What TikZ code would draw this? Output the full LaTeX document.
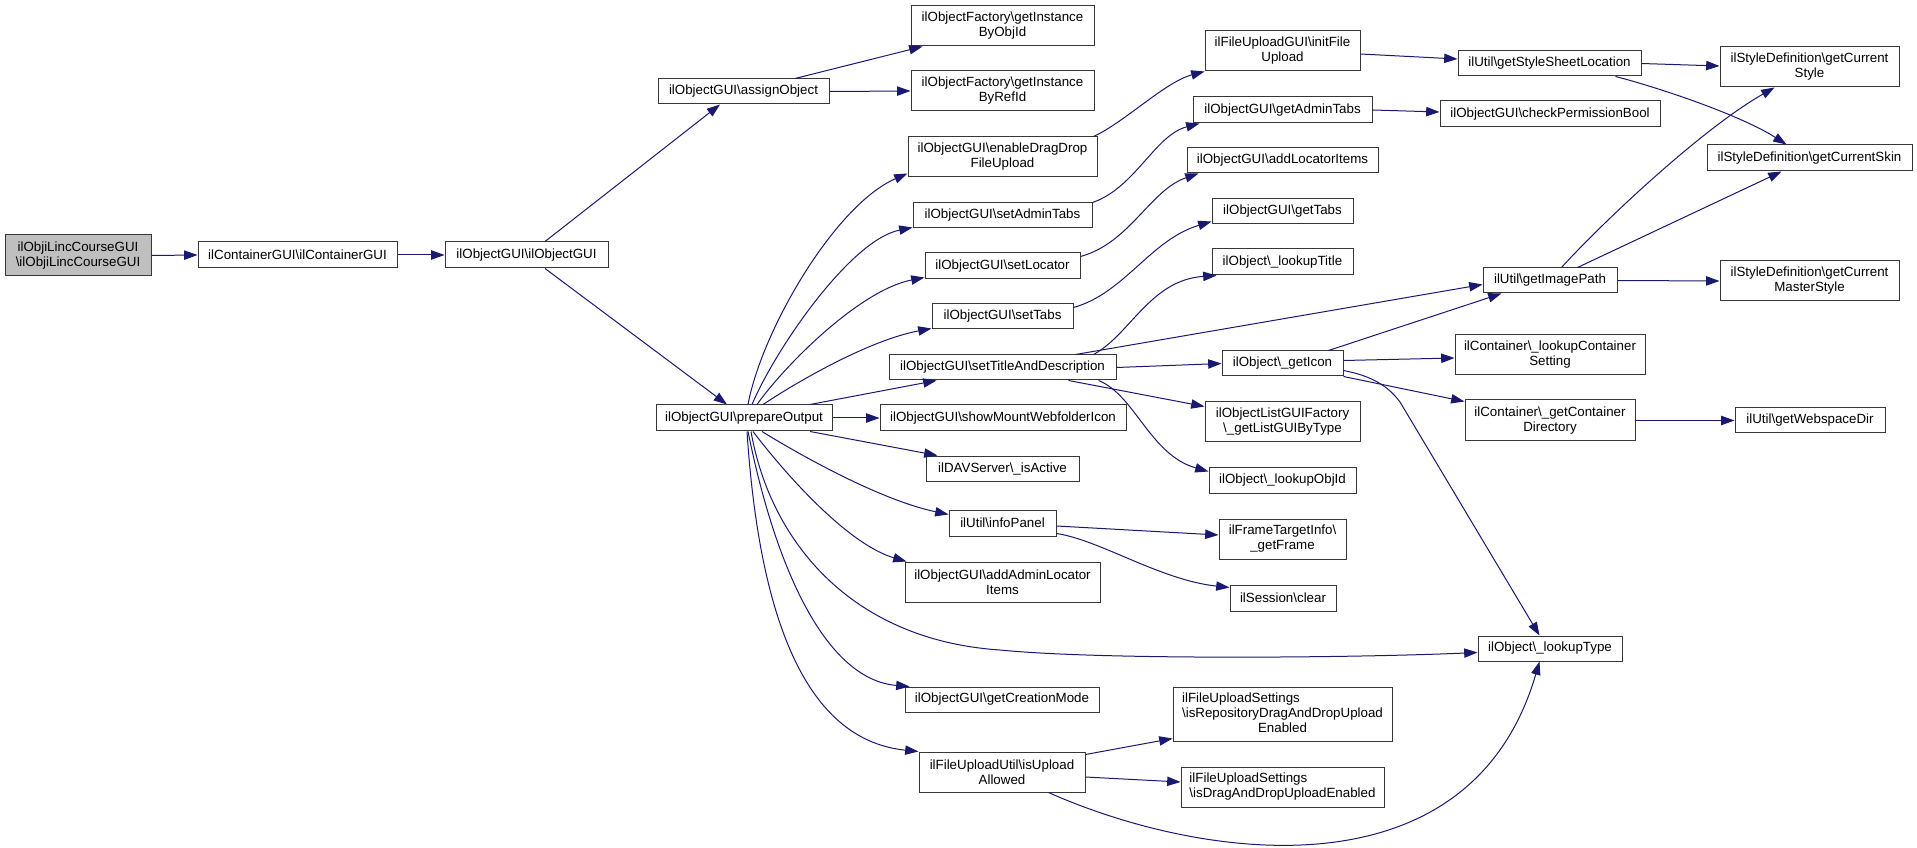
\documentclass[tikz,border=0pt]{standalone}
\usepackage{fontspec}
\setmainfont{Liberation Sans}
\usetikzlibrary{arrows.meta,calc}
\definecolor{edgec}{RGB}{25,25,112}
\definecolor{boxc}{RGB}{55,55,55}
\definecolor{rootfill}{RGB}{191,191,191}
\newcommand{\bksl}{\textbackslash}
\tikzset{
  box/.style={draw=boxc, line width=0.75pt, fill=white, inner sep=0pt, align=center,
    font=\fontsize{10}{11.25}\selectfont},
  edge/.style={draw=edgec, line width=0.75pt, -{Triangle[length=10pt,width=7pt]}}
}
\newcommand{\mkbox}[7][]{%
  \node[box,#1,minimum width={(#5-#3)*0.75pt},minimum height={(#6-#4)*0.75pt}]
    (#2) at ({(#3+#5)/2},{(#4+#6)/2}) {#7};}
\begin{document}
\begin{tikzpicture}[x=0.75pt,y=-0.75pt]
\fill[white] (0,0) rectangle (1917,848);
\useasboundingbox (0,0) rectangle (1917,848);
% nodes
\mkbox[fill=rootfill]{root}{5}{235}{151}{276}{ilObjiLincCourseGUI\\\bksl ilObjiLincCourseGUI}
\mkbox{cont}{198}{242}{397}{268}{ilContainerGUI\bksl ilContainerGUI}
\mkbox{objgui}{445}{242}{608}{268}{ilObjectGUI\bksl ilObjectGUI}
\mkbox{assign}{658}{79}{829}{104}{ilObjectGUI\bksl assignObject}
\mkbox{objid}{911}{6}{1094}{46}{ilObjectFactory\bksl getInstance\\ByObjId}
\mkbox{refid}{911}{71}{1094}{111}{ilObjectFactory\bksl getInstance\\ByRefId}
\mkbox{dnd}{908}{137}{1097}{177}{ilObjectGUI\bksl enableDragDrop\\FileUpload}
\mkbox{setadmin}{913}{203}{1092}{228}{ilObjectGUI\bksl setAdminTabs}
\mkbox{setloc}{925}{253}{1080}{279}{ilObjectGUI\bksl setLocator}
\mkbox{settabs}{932}{304}{1073}{329}{ilObjectGUI\bksl setTabs}
\mkbox{settitle}{889}{355}{1116}{380}{ilObjectGUI\bksl setTitleAndDescription}
\mkbox{prep}{656}{405}{832}{431}{ilObjectGUI\bksl prepareOutput}
\mkbox{mount}{880}{405}{1126}{431}{ilObjectGUI\bksl showMountWebfolderIcon}
\mkbox{dav}{926}{456}{1079}{481}{ilDAVServer\bksl\_isActive}
\mkbox{info}{949}{510}{1056}{536}{ilUtil\bksl infoPanel}
\mkbox{addadmin}{905}{562}{1100}{602}{ilObjectGUI\bksl addAdminLocator\\Items}
\mkbox{creation}{905}{687}{1099}{712}{ilObjectGUI\bksl getCreationMode}
\mkbox{isupload}{919}{752}{1085}{792}{ilFileUploadUtil\bksl isUpload\\Allowed}
\mkbox{initfile}{1205}{31}{1360}{71}{ilFileUploadGUI\bksl initFile\\Upload}
\mkbox{getadmin}{1193}{97}{1372}{123}{ilObjectGUI\bksl getAdminTabs}
\mkbox{addloc}{1187}{148}{1378}{173}{ilObjectGUI\bksl addLocatorItems}
\mkbox{gettabs}{1212}{199}{1353}{224}{ilObjectGUI\bksl getTabs}
\mkbox{ltitle}{1212}{249}{1353}{275}{ilObject\bksl\_lookupTitle}
\mkbox{geticon}{1222}{351}{1343}{376}{ilObject\bksl\_getIcon}
\mkbox{olgf}{1205}{402}{1360}{442}{ilObjectListGUIFactory\\\bksl\_getListGUIByType}
\mkbox{lobjid}{1209}{467}{1356}{493}{ilObject\bksl\_lookupObjId}
\mkbox{frame}{1219}{519}{1346}{559}{ilFrameTargetInfo\bksl\\\_getFrame}
\mkbox{sess}{1230}{585}{1336}{611}{ilSession\bksl clear}
\mkbox{ltype}{1478}{636}{1622}{661}{ilObject\bksl\_lookupType}
\mkbox{repodnd}{1173}{687}{1392}{741}{\begin{tabular}{@{}l@{}}ilFileUploadSettings\\\bksl isRepositoryDragAndDropUpload\\\multicolumn{1}{@{}c@{}}{Enabled}\end{tabular}}
\mkbox{dndenabled}{1181}{767}{1384}{807}{\begin{tabular}{@{}l@{}}ilFileUploadSettings\\\bksl isDragAndDropUploadEnabled\end{tabular}}
\mkbox{ssloc}{1458}{51}{1641}{76}{ilUtil\bksl getStyleSheetLocation}
\mkbox{checkperm}{1440}{101}{1660}{127}{ilObjectGUI\bksl checkPermissionBool}
\mkbox{imgpath}{1483}{268}{1617}{293}{ilUtil\bksl getImagePath}
\mkbox{lcs}{1455}{335}{1645}{375}{ilContainer\bksl\_lookupContainer\\Setting}
\mkbox{gcd}{1465}{400}{1635}{441}{ilContainer\bksl\_getContainer\\Directory}
\mkbox{curstyle}{1720}{47}{1899}{87}{ilStyleDefinition\bksl getCurrent\\Style}
\mkbox{curskin}{1707}{145}{1912}{171}{ilStyleDefinition\bksl getCurrentSkin}
\mkbox{master}{1720}{261}{1899}{301}{ilStyleDefinition\bksl getCurrent\\MasterStyle}
\mkbox{webspace}{1735}{408}{1885}{433}{ilUtil\bksl getWebspaceDir}
% edges
\draw[edge] (root.east) -- (cont.west);
\draw[edge] (cont.east) -- (objgui.west);
\draw[edge] ($(objgui.north)+(18.5,0)$) -- ($(assign.south)+(-23.5,0)$);
\draw[edge] ($(objgui.south)+(18.5,0)$) -- ($(prep.north)+(-17,0)$);
\draw[edge] ($(assign.north)+(51.5,0)$) -- ($(objid.south west)+(12,0)$);
\draw[edge] (assign.east) -- (refid.west);
% prepareOutput upward
\draw[edge] ($(prep.north)+(4,0)$) .. controls (762,330) and (835,205) .. ($(dnd.south west)+(0,-4)$);
\draw[edge] ($(prep.north)+(8,0)$) .. controls (775,350) and (850,240) .. ($(setadmin.south west)+(0,-1)$);
\draw[edge] ($(prep.north)+(13,0)$) .. controls (785,365) and (860,290) .. ($(setloc.south west)+(0,-2)$);
\draw[edge] ($(prep.north)+(19,0)$) .. controls (800,380) and (870,340) .. ($(settabs.south west)+(0,-1)$);
\draw[edge] ($(prep.north)+(66,0)$) -- ($(settitle.south west)+(48,0)$);
\draw[edge] (prep.east) -- (mount.west);
% prepareOutput downward
\draw[edge] ($(prep.south)+(66,0)$) -- ($(dav.north west)+(12,0)$);
\draw[edge] ($(prep.south)+(18,0)$) .. controls (800,455) and (880,500) .. ($(info.north west)+(0,5)$);
\draw[edge] ($(prep.south)+(9,0)$) .. controls (790,480) and (850,545) .. ($(addadmin.north west)+(2,0)$);
\draw[edge] ($(prep.south)+(7,0)$) .. controls (770,540) and (850,640) .. (1000,650) .. controls (1100,660) and (1350,658) .. ($(ltype.west)+(0,4)$);
\draw[edge] ($(prep.south)+(4,0)$) .. controls (778,580) and (830,680) .. ($(creation.north west)+(5,0)$);
\draw[edge] ($(prep.south)+(3,0)$) .. controls (762,660) and (825,742) .. (isupload.north west);
% second level
\draw[edge] ($(dnd.north east)+(-4,0)$) .. controls (1125,122) and (1165,82) .. (initfile.south west);
\draw[edge] (setadmin.north east) .. controls (1135,188) and (1155,135) .. ($(getadmin.south west)+(7,0)$);
\draw[edge] ($(setloc.north east)+(0,4)$) .. controls (1130,243) and (1150,190) .. ($(addloc.south west)+(12,0)$);
\draw[edge] ($(settabs.north east)+(0,4)$) .. controls (1125,293) and (1150,240) .. ($(gettabs.south west)+(0,-3)$);
\draw[edge] ($(settitle.north east)+(-23,0)$) .. controls (1130,335) and (1150,280) .. ($(ltitle.south west)+(5,0)$);
\draw[edge] ($(settitle.north east)+(-41,0)$) -- ($(imgpath.south west)+(0,-9)$);
\draw[edge] (settitle.east) -- (geticon.west);
\draw[edge] ($(settitle.south east)+(-48,0)$) -- ($(olgf.north west)+(0,5)$);
\draw[edge] ($(settitle.south east)+(-18,0)$) .. controls (1135,395) and (1150,455) .. ($(lobjid.north west)+(0,5)$);
\draw[edge] ($(info.east)+(0,3)$) -- ($(frame.west)+(0,-4)$);
\draw[edge] ($(info.south east)+(0,-3)$) .. controls (1100,540) and (1160,580) .. ($(sess.north west)+(0,3)$);
\draw[edge] ($(isupload.north east)+(0,3)$) -- ($(repodnd.south west)+(0,-3)$);
\draw[edge] ($(isupload.east)+(0,5)$) -- ($(dndenabled.west)+(0,-5)$);
\draw[edge] ($(isupload.south east)+(-37,0)$) .. controls (1200,860) and (1470,900) .. ($(ltype.south west)+(62,0)$);
% third level
\draw[edge] ($(initfile.east)+(0,3)$) -- ($(ssloc.west)+(0,-4.5)$);
\draw[edge] (getadmin.east) -- ($(checkperm.west)+(0,-2)$);
\draw[edge] ($(geticon.north east)+(-15,0)$) -- ($(imgpath.south west)+(19,0)$);
\draw[edge] ($(geticon.north east)+(0,10)$) -- ($(lcs.west)+(0,3)$);
\draw[edge] (geticon.south east) -- ($(gcd.north west)+(0,2)$);
\draw[edge] ($(geticon.south east)+(0,-6)$) .. controls (1372,376) and (1388,386) .. (1400,402) -- ($(ltype.north west)+(62,0)$);
\draw[edge] (gcd.east) -- (webspace.west);
% fourth level
\draw[edge] (ssloc.east) -- ($(curstyle.west)+(0,-1)$);
\draw[edge] ($(ssloc.south east)+(-26,0)$) .. controls (1660,88) and (1740,115) .. ($(curskin.north west)+(80,0)$);
\draw[edge] ($(imgpath.north west)+(79,0)$) .. controls (1600,225) and (1700,130) .. ($(curstyle.south west)+(55,0)$);
\draw[edge] ($(imgpath.north west)+(95,0)$) -- ($(curskin.south west)+(75,0)$);
\draw[edge] (imgpath.east) -- (master.west);
\end{tikzpicture}
\end{document}
